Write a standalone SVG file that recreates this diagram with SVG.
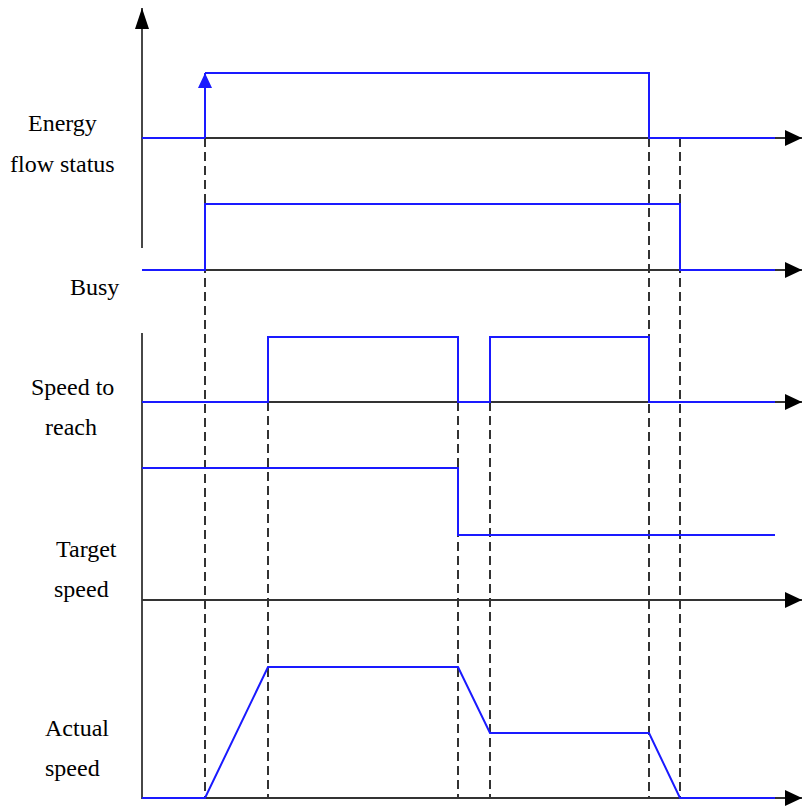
<svg xmlns="http://www.w3.org/2000/svg" width="802" height="809" viewBox="0 0 802 809">
<style>
.axis{stroke:#333;stroke-width:1.8;fill:none}
.sig{stroke:#1a1aff;stroke-width:2;fill:none;stroke-linejoin:miter}
.dash{stroke:#000;stroke-width:1.6;stroke-dasharray:9 5;fill:none}
.lbl{font-family:Liberation Serif,serif;font-size:24px;fill:#000}
</style>
<defs>
<marker id="ah" viewBox="0 0 17 16" refX="17" refY="8" markerWidth="17" markerHeight="16" markerUnits="userSpaceOnUse" orient="auto">
<path d="M0,0 L17,8 L0,16 Z" fill="#000"/>
</marker>
<marker id="av" viewBox="0 0 21 14" refX="21" refY="7" markerWidth="21" markerHeight="14" markerUnits="userSpaceOnUse" orient="auto">
<path d="M0,0 L21,7 L0,14 Z" fill="#000"/>
</marker>
<marker id="bh" viewBox="0 0 15 14" refX="15" refY="7" markerWidth="15" markerHeight="14" markerUnits="userSpaceOnUse" orient="auto">
<path d="M0,0 L15,7 L0,14 Z" fill="#1a1aff"/>
</marker>
</defs>
<g id="labels">
<text class="lbl" x="28" y="131">Energy</text>
<text class="lbl" x="10" y="172">flow status</text>
<text class="lbl" x="70" y="295">Busy</text>
<text class="lbl" x="31" y="395">Speed to</text>
<text class="lbl" x="45" y="435">reach</text>
<text class="lbl" x="56" y="557">Target</text>
<text class="lbl" x="54" y="597">speed</text>
<text class="lbl" x="45" y="736">Actual</text>
<text class="lbl" x="45" y="776">speed</text>
</g>
<g id="connectors">
<g id="guides">
<line class="dash" x1="205" y1="138" x2="205" y2="798"/>
<line class="dash" x1="268" y1="402" x2="268" y2="798"/>
<line class="dash" x1="458" y1="402" x2="458" y2="798"/>
<line class="dash" x1="490" y1="402" x2="490" y2="798"/>
<line class="dash" x1="649" y1="138" x2="649" y2="798"/>
<line class="dash" x1="680" y1="138" x2="680" y2="798"/>
</g>
<g id="axes">
<line class="axis" x1="142" y1="248" x2="142" y2="8" marker-end="url(#av)"/>
<line class="axis" x1="142" y1="333" x2="142" y2="799"/>
<line class="axis" x1="142" y1="138" x2="802" y2="138" marker-end="url(#ah)"/>
<line class="axis" x1="142" y1="270" x2="802" y2="270" marker-end="url(#ah)"/>
<line class="axis" x1="142" y1="402" x2="802" y2="402" marker-end="url(#ah)"/>
<line class="axis" x1="142" y1="600" x2="802" y2="600" marker-end="url(#ah)"/>
<line class="axis" x1="142" y1="798" x2="802" y2="798" marker-end="url(#ah)"/>
</g>
<g id="signals">
<polyline class="sig" points="142,138 205,138"/>
<line class="sig" x1="205" y1="138" x2="205" y2="73" marker-end="url(#bh)"/>
<polyline class="sig" points="205,73 649,73 649,138 775,138"/>
<polyline class="sig" points="142,270 205,270 205,204 680,204 680,270 775,270"/>
<polyline class="sig" points="142,402 268,402 268,337 458,337 458,402 490,402 490,337 649,337 649,402 775,402"/>
<polyline class="sig" points="142,468 458,468 458,535 775,535"/>
<polyline class="sig" points="142,798 205,798 268,667 458,667 490,733 649,733 680,798 775,798"/>
</g>
</g>
</svg>
